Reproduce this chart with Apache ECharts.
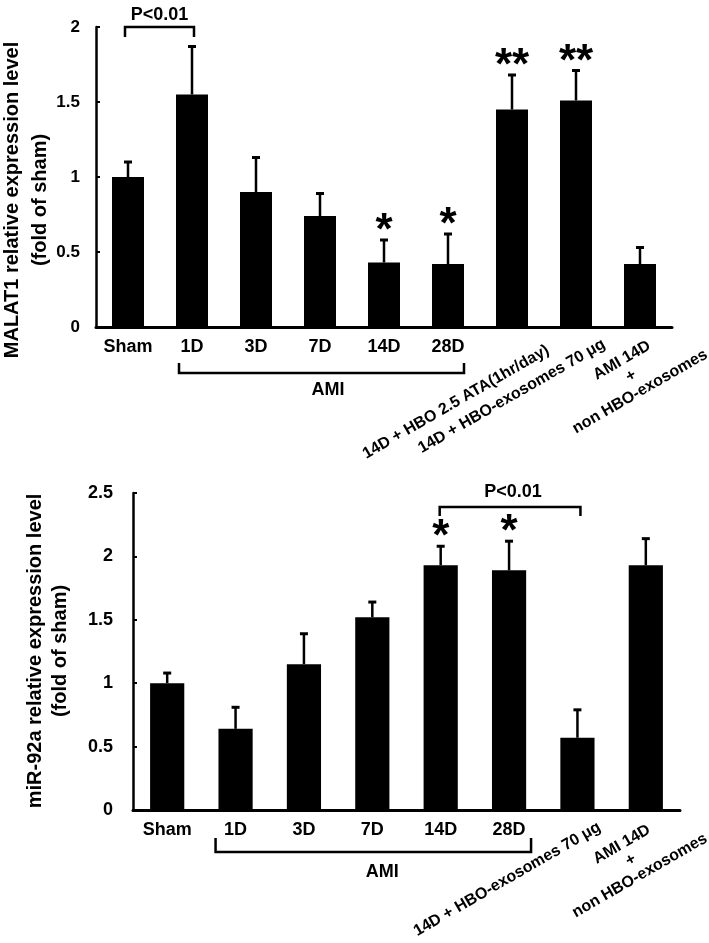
<!DOCTYPE html>
<html><head><meta charset="utf-8">
<script src="https://cdn.jsdelivr.net/npm/echarts@6/dist/echarts.min.js"></script>
<style>html,body{margin:0;padding:0;background:#fff}#c{width:709px;height:943px}</style>
</head><body><div id="c"></div>
<script>
// ---- Data: top panel (MALAT1) ----
const topCategories = ['Sham', '1D', '3D', '7D', '14D', '28D', '14D + HBO 2.5 ATA(1hr/day)', '14D + HBO-exosomes 70 μg', 'AMI 14D\n+\nnon HBO-exosomes'];
const topValues = [1.00, 1.55, 0.90, 0.74, 0.43, 0.42, 1.45, 1.51, 0.42];
const topErrors = [0.10, 0.32, 0.23, 0.15, 0.15, 0.20, 0.23, 0.20, 0.11];
const topSig = ['', '', '', '', '*', '*', '**', '**', ''];
const topTicks = [0, 0.5, 1, 1.5, 2];
const topTitle = 'MALAT1 relative expression level\n(fold of sham)';

// ---- Data: bottom panel (miR-92a) ----
const botCategories = ['Sham', '1D', '3D', '7D', '14D', '28D', '14D + HBO-exosomes 70 μg', 'AMI 14D\n+\nnon HBO-exosomes'];
const botValues = [1.00, 0.64, 1.15, 1.52, 1.93, 1.89, 0.57, 1.93];
const botErrors = [0.08, 0.17, 0.24, 0.12, 0.15, 0.23, 0.22, 0.21];
const botSig = ['', '', '', '', '*', '*', '', ''];
const botTicks = [0, 0.5, 1, 1.5, 2, 2.5];
const botTitle = 'miR-92a relative expression level\n(fold of sham)';

const FONT = '"Liberation Sans", Arial, sans-serif';
const chart = echarts.init(document.getElementById('c'), null, {renderer: 'canvas'});

function xAxisCfg(gi, cats) {
  return {
    gridIndex: gi, type: 'category', data: cats,
    axisLine: {lineStyle: {color: '#000', width: 3}},
    axisTick: {show: false},
    axisLabel: {interval: 0, margin: 11, color: '#000', fontSize: 18, fontWeight: 'bold', fontFamily: FONT,
      formatter: v => (v.indexOf(' ') >= 0 ? '' : v)}
  };
}
function yAxisCfg(gi, ticks, margin, fs) {
  return {
    gridIndex: gi, type: 'value', min: ticks[0], max: ticks[ticks.length - 1], interval: ticks[1] - ticks[0],
    axisLine: {show: true, lineStyle: {color: '#000', width: 2.5}},
    axisTick: {show: true, inside: true, length: 4, lineStyle: {color: '#000', width: 2}},
    splitLine: {show: false},
    axisLabel: {margin: margin, color: '#000', fontSize: fs, fontWeight: 'bold', fontFamily: FONT}
  };
}
function barSeries(i, vals) {
  return {type: 'bar', xAxisIndex: i, yAxisIndex: i, data: vals, barWidth: '50%',
    itemStyle: {color: '#000'}, z: 3, animation: false};
}
function errSeries(i, vals, errs, sig) {
  return {
    type: 'custom', xAxisIndex: i, yAxisIndex: i, z: 5, animation: false,
    data: vals.map((v, k) => [k, v, v + errs[k]]),
    encode: {x: 0, y: [1, 2]},
    renderItem: function (params, api) {
      const b = api.coord([api.value(0), api.value(1)]);
      const t = api.coord([api.value(0), api.value(2)]);
      const ch = [
        {type: 'line', shape: {x1: b[0], y1: b[1], x2: t[0], y2: t[1]}, style: {stroke: '#000', lineWidth: 2.5}},
        {type: 'rect', shape: {x: t[0] - 4, y: t[1] - 1.5, width: 8, height: 3}, style: {fill: '#000'}}
      ];
      const s = sig[params.dataIndex];
      if (s) ch.push({type: 'text', x: t[0], y: t[1] - 8,
        style: {text: s, fill: '#000', font: 'bold 44px ' + FONT, align: 'center', verticalAlign: 'middle'}});
      return {type: 'group', children: ch};
    }
  };
}

chart.setOption({
  animation: false,
  backgroundColor: '#fff',
  grid: [
    {left: 96, top: 27, width: 576, height: 300},
    {left: 133, top: 493, width: 547, height: 317}
  ],
  xAxis: [xAxisCfg(0, topCategories), xAxisCfg(1, botCategories)],
  yAxis: [yAxisCfg(0, topTicks, 16, 17), yAxisCfg(1, botTicks, 20, 18)],
  series: [
    barSeries(0, topValues), errSeries(0, topValues, topErrors, topSig),
    barSeries(1, botValues), errSeries(1, botValues, botErrors, botSig)
  ]
});

// ---- annotations (positioned through the axes) ----
function px(i, cat, val) { return chart.convertToPixel({xAxisIndex: i, yAxisIndex: i}, [cat, val]); }
const g = [];
function txt(x, y, text, opts) {
  g.push(Object.assign({type: 'text', x: x, y: y, silent: true,
    style: Object.assign({text: text, fill: '#000', font: 'bold 18px ' + FONT, align: 'center', verticalAlign: 'middle'}, opts.style || {})},
    opts.rot ? {rotation: opts.rot} : {}));
}
function poly(pts) {
  g.push({type: 'polyline', silent: true, shape: {points: pts}, style: {stroke: '#000', lineWidth: 2.5, fill: null}});
}

// y-axis titles
txt(26, 200, topTitle, {rot: Math.PI / 2, style: {font: 'bold 20px ' + FONT, lineHeight: 28}});
txt(48, 651, botTitle, {rot: Math.PI / 2, style: {font: 'bold 20px ' + FONT, lineHeight: 25}});

// rotated category labels
const ROT = Math.PI / 6;
function rotLabels(i, cats, offs) {
  cats.forEach((c, k) => {
    if (c.indexOf(' ') < 0) return;
    const p = px(i, k, 0);
    const o = offs[k];
    if (c.indexOf('\n') >= 0) {
      txt(p[0] + o[0], p[1] + o[1], c, {rot: ROT, style: {font: 'bold 16px ' + FONT, lineHeight: 18, align: 'center'}});
    } else {
      txt(p[0] + o[0], p[1] + o[1], c, {rot: ROT, style: {font: 'bold 16px ' + FONT, align: 'right'}});
    }
  });
}
rotLabels(0, topCategories, {6: [36, 22], 7: [28, 16], 8: [-9, 49]});
rotLabels(1, botCategories, {6: [22, 16], 7: [-15, 50]});

// AMI brackets
(function () {
  const a = px(0, 1, 0), b = px(0, 5, 0);
  poly([[a[0] - 13, a[1] + 36], [a[0] - 13, a[1] + 46], [b[0] + 16, a[1] + 46], [b[0] + 16, a[1] + 36]]);
  txt((a[0] + b[0]) / 2 + 8, a[1] + 63, 'AMI', {});
  const c = px(1, 1, 0), d = px(1, 5, 0);
  poly([[c[0] - 20, c[1] + 28], [c[0] - 20, c[1] + 42], [d[0] + 22, c[1] + 42], [d[0] + 22, c[1] + 28]]);
  txt((c[0] + d[0]) / 2 + 10, c[1] + 62, 'AMI', {});
})();

// P<0.01 brackets
(function () {
  const a = px(0, 0, 2.0), b = px(0, 1, 2.0);
  const l = a[0] - 3, r = b[0] + 2, y = a[1];
  poly([[l, y + 10], [l, y], [r, y], [r, y + 10]]);
  txt((l + r) / 2, y - 12, 'P<0.01', {});
  const c = px(1, 4, 2.39), d = px(1, 6, 2.39);
  const l2 = c[0] - 1, r2 = d[0] + 3, y2 = c[1];
  poly([[l2, y2 + 9], [l2, y2], [r2, y2], [r2, y2 + 9]]);
  txt((l2 + r2) / 2 + 3, y2 - 15, 'P<0.01', {});
})();

chart.setOption({graphic: g});
</script>
</body></html>
